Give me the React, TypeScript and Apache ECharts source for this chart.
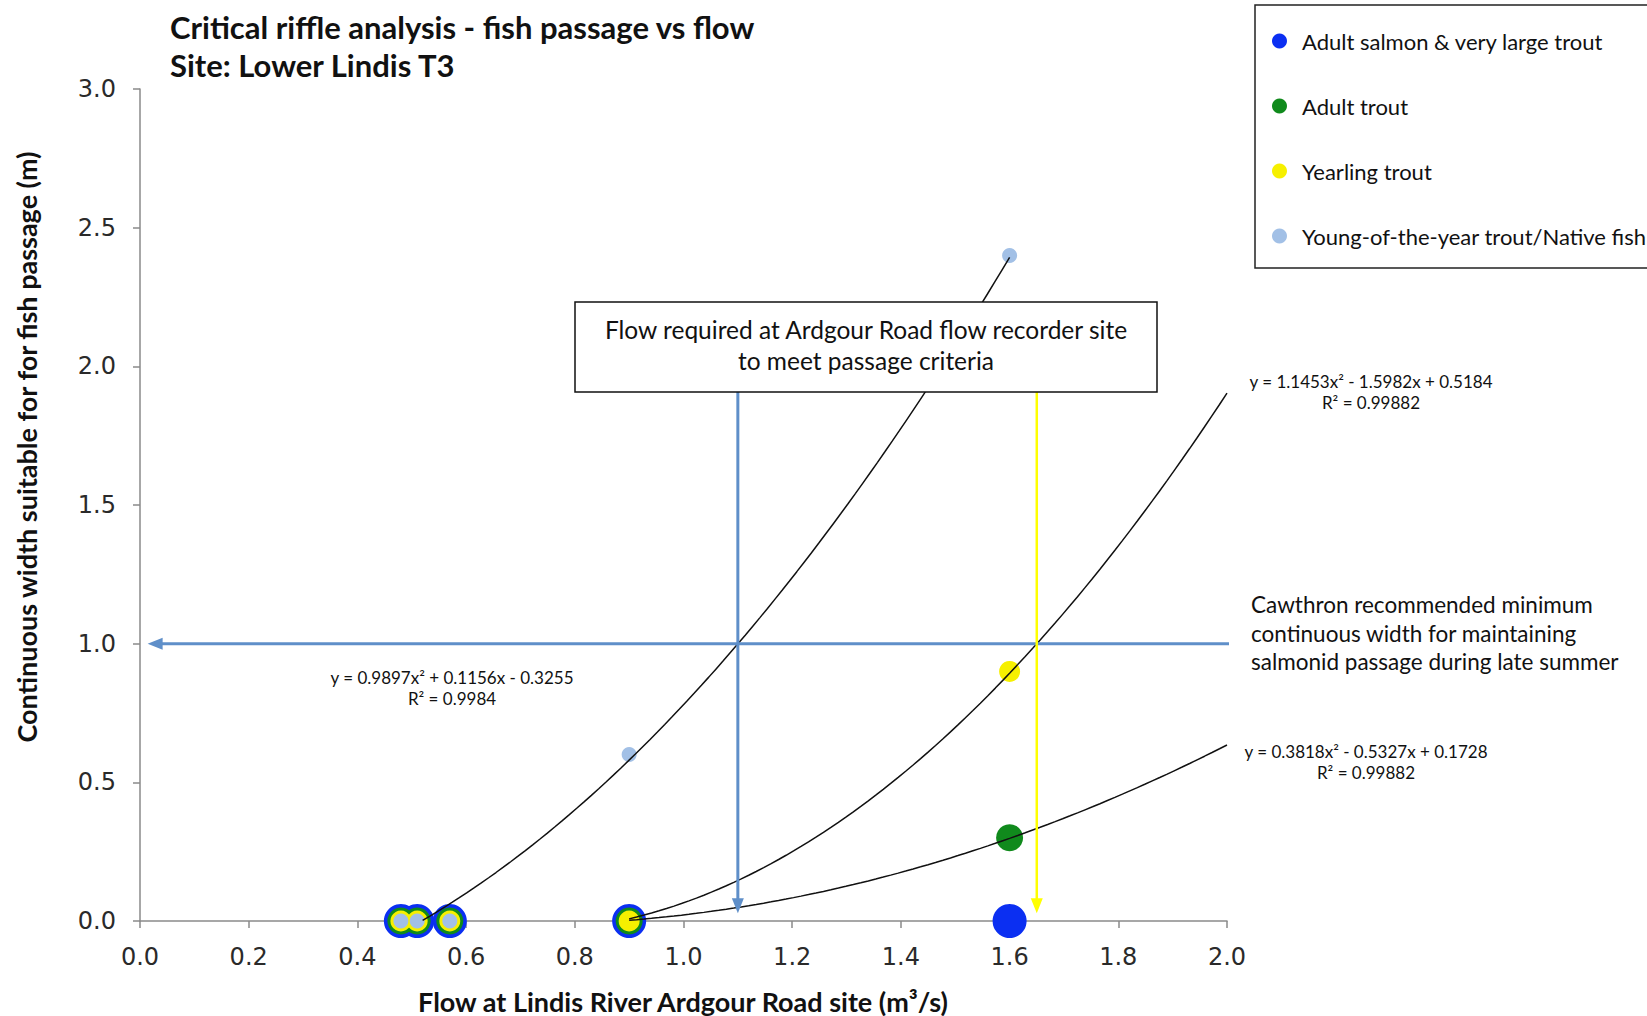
import React, { useEffect, useRef } from "react";
import * as echarts from "echarts";

// ---- Data -------------------------------------------------------------
const titleLines = ["Critical riffle analysis - fish passage vs flow", "Site: Lower Lindis T3"];
const xAxisTitle = "Flow at Lindis River Ardgour Road site (m³/s)";
const yAxisTitle = "Continuous width suitable for for fish passage (m)";

// Surveyed flows (m3/s) and continuous passable width (m) for each fish class
const flows = [0.48, 0.51, 0.57, 0.9, 1.6];
const salmonWidth = [0, 0, 0, 0, 0];
const adultTroutWidth = [0, 0, 0, 0, 0.3];
const yearlingWidth = [0, 0, 0, 0, 0.9];
const yoyWidth = [0, 0, 0, 0.6, 2.4];

// Polynomial trendlines: [a, b, c] for y = a x² + b x + c, and the flow span drawn
const yoyFit = [0.9897, 0.1156, -0.3255];
const yoyFitSpan = [0.52, 1.6];
const yearlingFit = [1.1453, -1.5982, 0.5184];
const yearlingFitSpan = [0.9, 2.0];
const adultFit = [0.3818, -0.5327, 0.1728];
const adultFitSpan = [0.9, 2.0];

const yoyEquation = ["y = 0.9897x² + 0.1156x - 0.3255", "R² = 0.9984"];
const yearlingEquation = ["y = 1.1453x² - 1.5982x + 0.5184", "R² = 0.99882"];
const adultEquation = ["y = 0.3818x² - 0.5327x + 0.1728", "R² = 0.99882"];

// Passage criterion and the flows at which it is met
const criterionWidth = 1.0;
const criterionLineEnd = 2.8;
const criterionArrowTip = 0.015;
const yoyRequiredFlow = 1.1;
const yearlingRequiredFlow = 1.65;
const requiredFlowLineTop = 1.95;
const requiredFlowArrowTip = 0.03;

const boxText = ["Flow required at Ardgour Road flow recorder site", "to meet passage criteria"];
const criterionText = [
  "Cawthron recommended minimum",
  "continuous width for maintaining",
  "salmonid passage during late summer",
];

const seriesNames = [
  "Adult salmon & very large trout",
  "Adult trout",
  "Yearling trout",
  "Young-of-the-year trout/Native fish",
];

// ---- Helpers ----------------------------------------------------------
const pair = (xs: number[], ys: number[]) => xs.map((x, i) => [x, ys[i]]);

function trend(coef: number[], span: number[]) {
  const pts: number[][] = [];
  const steps = 80;
  for (let i = 0; i <= steps; i++) {
    const x = span[0] + ((span[1] - span[0]) * i) / steps;
    pts.push([x, coef[0] * x * x + coef[1] * x + coef[2]]);
  }
  return pts;
}

const COLORS = {
  salmon: "#0b2ff2",
  adult: "#108a1c",
  yearling: "#f6f000",
  yoy: "#a2c0e6",
  arrowBlue: "#5f8fc9",
  arrowYellow: "#ffff00",
  axis: "#8a8a8a",
};

const LEFT_ARROW = "path://M0,6 L15,0 L15,12 Z";
const DOWN_ARROW = "path://M0,0 L12,0 L6,15 Z";

const textFont = "Lato, 'Open Sans', sans-serif";
const tickFont = "'DejaVu Sans', Verdana, sans-serif";

export default function App() {
  const ref = useRef<HTMLDivElement>(null);

  useEffect(() => {
    if (!ref.current) return;
    const chart = echarts.init(ref.current, undefined, { renderer: "svg" });

    const scatter = (name: string, ys: number[], color: string, size: number, z: number) => ({
      name,
      type: "scatter",
      data: pair(flows, ys),
      symbol: "circle",
      symbolSize: size,
      itemStyle: { color, opacity: 1 },
      z,
    });

    const trendLine = (name: string, coef: number[], span: number[]) => ({
      name,
      type: "line",
      data: trend(coef, span),
      showSymbol: false,
      smooth: false,
      lineStyle: { color: "#111", width: 1.5 },
      z: 6,
      silent: true,
    });

    const arrowLine = (name: string, data: number[][], color: string, width: number) => ({
      name,
      type: "line",
      data,
      showSymbol: false,
      clip: false,
      lineStyle: { color, width },
      z: 7,
      silent: true,
    });

    const arrowHead = (name: string, point: number[], color: string, symbol: string, size: number[], offset: number[]) => ({
      name,
      type: "scatter",
      data: [point],
      symbol,
      symbolSize: size,
      symbolOffset: offset,
      itemStyle: { color, opacity: 1 },
      z: 8,
      silent: true,
    });

    const eqText = (lines: string[], cx: number, cy: number) => ({
      type: "text",
      x: cx,
      y: cy,
      z: 20,
      style: {
        text: lines.join("\n"),
        fontFamily: textFont,
        fontSize: 17,
        lineHeight: 21,
        fill: "#111",
        align: "center",
        verticalAlign: "middle",
      },
    });

    const axisCommon = {
      type: "value",
      splitLine: { show: false },
      axisLine: { show: true, onZero: false, lineStyle: { color: COLORS.axis, width: 1.5 } },
      axisTick: { show: true, inside: false, length: 7, lineStyle: { color: COLORS.axis, width: 1.5 } },
      axisLabel: {
        margin: 24,
        fontFamily: tickFont,
        fontSize: 24,
        color: "#2a2a2a",
        formatter: (v: number) => v.toFixed(1),
      },
    };

    chart.setOption({
      animation: false,
      backgroundColor: "#ffffff",
      grid: { left: 140, right: 420, top: 89, bottom: 95, containLabel: false },
      xAxis: { ...axisCommon, min: 0, max: 2, interval: 0.2 },
      yAxis: { ...axisCommon, min: 0, max: 3, interval: 0.5 },
      legend: {
        data: seriesNames,
        orient: "vertical",
        left: 1255,
        top: 5,
        itemGap: 43,
        itemWidth: 15,
        itemHeight: 15,
        icon: "circle",
        selectedMode: false,
        borderColor: "#222",
        borderWidth: 1.5,
        padding: [25, 90, 21, 17],
        textStyle: { fontFamily: textFont, fontSize: 22, lineHeight: 20, color: "#111", padding: [0, 0, 0, 10] },
      },
      series: [
        scatter(seriesNames[0], salmonWidth, COLORS.salmon, 34, 2),
        scatter(seriesNames[1], adultTroutWidth, COLORS.adult, 27, 3),
        scatter(seriesNames[2], yearlingWidth, COLORS.yearling, 21, 4),
        scatter(seriesNames[3], yoyWidth, COLORS.yoy, 15, 5),
        trendLine("yoy trend", yoyFit, yoyFitSpan),
        trendLine("yearling trend", yearlingFit, yearlingFitSpan),
        trendLine("adult trend", adultFit, adultFitSpan),
        arrowLine(
          "criterion",
          [
            [criterionLineEnd, criterionWidth],
            [criterionArrowTip + 0.02, criterionWidth],
          ],
          COLORS.arrowBlue,
          3
        ),
        arrowHead("criterion head", [criterionArrowTip, criterionWidth], COLORS.arrowBlue, LEFT_ARROW, [15, 12], [7, 0]),
        arrowLine(
          "yoy flow",
          [
            [yoyRequiredFlow, requiredFlowLineTop],
            [yoyRequiredFlow, requiredFlowArrowTip + 0.03],
          ],
          COLORS.arrowBlue,
          3
        ),
        arrowHead("yoy flow head", [yoyRequiredFlow, requiredFlowArrowTip], COLORS.arrowBlue, DOWN_ARROW, [12, 15], [0, -7]),
        arrowLine(
          "yearling flow",
          [
            [yearlingRequiredFlow, requiredFlowLineTop],
            [yearlingRequiredFlow, requiredFlowArrowTip + 0.03],
          ],
          COLORS.arrowYellow,
          2.5
        ),
        arrowHead("yearling flow head", [yearlingRequiredFlow, requiredFlowArrowTip], COLORS.arrowYellow, DOWN_ARROW, [12, 15], [0, -7]),
      ],
      graphic: [
        {
          type: "text",
          x: 170,
          y: 8,
          z: 20,
          style: {
            text: titleLines.join("\n"),
            fontFamily: textFont,
            fontWeight: "bold",
            fontSize: 31,
            lineHeight: 38,
            fill: "#111",
            align: "left",
            verticalAlign: "top",
          },
        },
        {
          type: "text",
          x: 683,
          y: 1001,
          z: 20,
          style: {
            text: xAxisTitle,
            fontFamily: textFont,
            fontWeight: "bold",
            fontSize: 27,
            fill: "#111",
            align: "center",
            verticalAlign: "middle",
          },
        },
        {
          type: "text",
          x: 26,
          y: 447,
          rotation: Math.PI / 2,
          z: 20,
          style: {
            text: yAxisTitle,
            fontFamily: textFont,
            fontWeight: "bold",
            fontSize: 27,
            fill: "#111",
            align: "center",
            verticalAlign: "middle",
          },
        },
        {
          type: "rect",
          shape: { x: 575, y: 302, width: 582, height: 90 },
          z: 15,
          style: { fill: "#ffffff", stroke: "#111", lineWidth: 1.5 },
        },
        {
          type: "text",
          x: 866,
          y: 345,
          z: 16,
          style: {
            text: boxText.join("\n"),
            fontFamily: textFont,
            fontSize: 24.5,
            lineHeight: 31,
            fill: "#111",
            align: "center",
            verticalAlign: "middle",
          },
        },
        {
          type: "text",
          x: 1251,
          y: 633,
          z: 20,
          style: {
            text: criterionText.join("\n"),
            fontFamily: textFont,
            fontSize: 22.5,
            lineHeight: 28.5,
            fill: "#111",
            align: "left",
            verticalAlign: "middle",
          },
        },
        eqText(yoyEquation, 452, 688),
        eqText(yearlingEquation, 1371, 392),
        eqText(adultEquation, 1366, 762),
      ],
    });

    return () => chart.dispose();
  }, []);

  return (
    <div
      ref={ref}
      style={{ position: "absolute", left: 0, top: 0, width: 1647, height: 1016, background: "#fff" }}
    />
  );
}
